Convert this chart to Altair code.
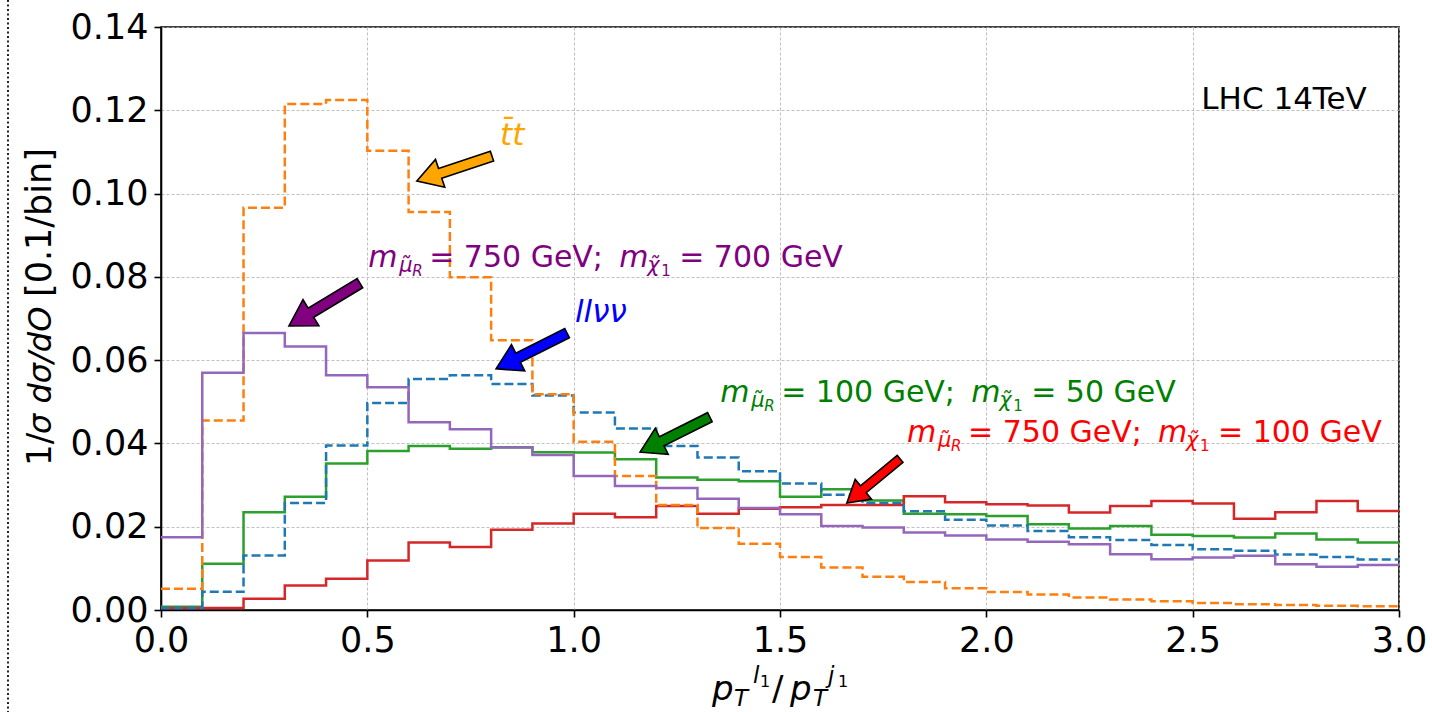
import math
import altair as alt
import pandas as pd

# ---------------- data ----------------
BIN_LEFT = [0.0, 0.1, 0.2, 0.3, 0.4, 0.5, 0.6, 0.7, 0.8, 0.9,
            1.0, 1.1, 1.2, 1.3, 1.4, 1.5, 1.6, 1.7, 1.8, 1.9,
            2.0, 2.1, 2.2, 2.3, 2.4, 2.5, 2.6, 2.7, 2.8, 2.9]
X_MAX = 3.0

tt = [0.0051, 0.0455, 0.0966, 0.1215, 0.1225, 0.1103, 0.0956, 0.0799, 0.0648, 0.0518,
      0.0404, 0.0322, 0.0252, 0.0197, 0.0159, 0.0127, 0.0102, 0.0080, 0.0067, 0.0052,
      0.0043, 0.0037, 0.0030, 0.0025, 0.0021, 0.0017, 0.0014, 0.0012, 0.0010, 0.0009]
llvv = [0.0005, 0.0044, 0.0131, 0.0257, 0.0395, 0.0497, 0.0555, 0.0564, 0.0543, 0.0515,
        0.0474, 0.0436, 0.0394, 0.0366, 0.0333, 0.0304, 0.0277, 0.0257, 0.0237, 0.0217,
        0.0203, 0.0190, 0.0175, 0.0168, 0.0156, 0.0146, 0.0142, 0.0133, 0.0127, 0.0121]
sig_100_50 = [0.0008, 0.0111, 0.0235, 0.0272, 0.0352, 0.0382, 0.0394, 0.0387, 0.0391, 0.0379,
              0.0378, 0.0362, 0.0318, 0.0313, 0.0309, 0.0272, 0.0290, 0.0263, 0.0231, 0.0230,
              0.0226, 0.0206, 0.0196, 0.0202, 0.0181, 0.0178, 0.0174, 0.0184, 0.0169, 0.0162]
sig_750_100 = [0.0005, 0.0005, 0.0027, 0.0059, 0.0075, 0.0119, 0.0162, 0.0151, 0.0193, 0.0208,
               0.0231, 0.0223, 0.0250, 0.0231, 0.0243, 0.0247, 0.0252, 0.0252, 0.0273, 0.0259,
               0.0254, 0.0251, 0.0234, 0.0250, 0.0262, 0.0256, 0.0219, 0.0235, 0.0262, 0.0238]
sig_750_700 = [0.0175, 0.0570, 0.0665, 0.0633, 0.0564, 0.0535, 0.0451, 0.0434, 0.0390, 0.0372,
               0.0322, 0.0298, 0.0293, 0.0267, 0.0245, 0.0230, 0.0202, 0.0198, 0.0186, 0.0179,
               0.0169, 0.0164, 0.0158, 0.0134, 0.0122, 0.0126, 0.0130, 0.0110, 0.0104, 0.0108]

X_TICKS = [0.0, 0.5, 1.0, 1.5, 2.0, 2.5, 3.0]
Y_TICKS = [0.0, 0.02, 0.04, 0.06, 0.08, 0.10, 0.12, 0.14]

# arrows: (tail x, tail y, tip x, tip y, colour) in data coordinates
ARROWS = [
    (0.802, 0.1090, 0.620, 0.1030, "#FFA500"),
    (0.482, 0.0785, 0.310, 0.0682, "#800080"),
    (0.984, 0.0665, 0.812, 0.0579, "#0000FF"),
    (1.330, 0.0463, 1.161, 0.0379, "#008000"),
    (1.791, 0.0363, 1.662, 0.0257, "#FF0000"),
]

# ---------------- layout ----------------
W, H = 1238, 583
PAD = {"left": 161, "top": 27, "right": 33, "bottom": 102}
PX_X = W / X_MAX
PX_Y = H / 0.14

xs = alt.Scale(domain=[0, X_MAX], nice=False, zero=False)
ys = alt.Scale(domain=[0, 0.14], nice=False, zero=False)
x_enc = alt.X("x:Q", scale=xs, axis=alt.Axis(values=X_TICKS, format=".1f", title=None, grid=True))
y_enc = alt.Y("y:Q", scale=ys, axis=alt.Axis(values=Y_TICKS, format=".2f", title=None, grid=True))


def steps(vals):
    return pd.DataFrame({"x": BIN_LEFT + [X_MAX], "y": vals + [vals[-1]]})


def hist_layer(vals, color, dashed):
    kw = dict(interpolate="step-after", color=color, strokeWidth=2.5, clip=True)
    if dashed:
        kw["strokeDash"] = [9, 4]
    return alt.Chart(steps(vals)).mark_line(**kw).encode(x=x_enc, y=y_enc)


layers = [
    hist_layer(sig_100_50, "#2ca02c", False),
    hist_layer(sig_750_100, "#d62728", False),
    hist_layer(llvv, "#1f77b4", True),
    hist_layer(tt, "#ff7f0e", True),
    hist_layer(sig_750_700, "#9467bd", False),
]

# ---------------- arrows (one layer each, custom symbol path) ----------------
ARROW_PATH = "M-1,-0.13L0.38,-0.13L0.38,-0.37L1,0L0.38,0.37L0.38,0.13L-1,0.13Z"
for tx, ty, hx, hy, col in ARROWS:
    dx = (hx - tx) * PX_X
    dy = -(hy - ty) * PX_Y
    length = math.hypot(dx, dy)
    ang = math.degrees(math.atan2(dy, dx)) % 360
    adf = pd.DataFrame({"x": [(tx + hx) / 2], "y": [(ty + hy) / 2]})
    layers.append(alt.Chart(adf).mark_point(
        shape=ARROW_PATH, filled=True, fill=col, color=col, stroke="black",
        strokeWidth=1.6, opacity=1, fillOpacity=1, strokeOpacity=1,
        size=length * length, angle=ang
    ).encode(x=x_enc, y=y_enc))

# ---------------- in-plot texts ----------------
trows = []


def add_label(x0, y0, color, segs):
    for txt, ox, oy, size, italic in segs:
        trows.append({"x": x0 + ox / PX_X, "y": y0 - oy / PX_Y, "text": txt,
                      "size": size, "color": color, "italic": italic})


def mass_segs(a, b):
    return [("m", 0, 0, 30, True), ("\u03bc\u0303", 31, 5, 21, True), ("R", 44, 9, 15, True),
            (f"= {a} GeV;", 61, 0, 30, False),
            ("m", 251, 0, 30, True), ("\u03c7\u0303", 279, 5, 21, True), ("1", 293, 9, 15, False),
            (f"= {b} GeV", 311, 0, 30, False)]


add_label(0.502, 0.0824, "#800080", mass_segs(750, 700))
add_label(1.355, 0.0500, "#008000", mass_segs(100, 50))
add_label(1.808, 0.0403, "#FF0000", mass_segs(750, 100))
add_label(0.8215, 0.1117, "#FFA500", [("t\u0304t", 0, 0, 31, True)])
add_label(1.003, 0.0692, "#0000FF", [("ll\u03bd\u03bd", 0, 0, 31, True)])

tdf = pd.DataFrame(trows)


def text_layer(df, italic):
    return alt.Chart(df).mark_text(
        align="left", baseline="alphabetic", font="DejaVu Sans",
        fontStyle="italic" if italic else "normal"
    ).encode(
        x=x_enc, y=y_enc, text="text:N",
        size=alt.Size("size:Q", scale=None),
        color=alt.Color("color:N", scale=None),
    )


layers.append(text_layer(tdf[tdf.italic], True))
layers.append(text_layer(tdf[~tdf.italic], False))

lhc = pd.DataFrame({"x": [2.922], "y": [0.1203], "text": ["LHC 14TeV"]})
layers.append(alt.Chart(lhc).mark_text(align="right", baseline="alphabetic", font="DejaVu Sans",
                                       fontSize=31, color="black").encode(x=x_enc, y=y_enc, text="text:N"))

# ---------------- axis titles (pixel positions, outside the plot) ----------------
OX, OY = PAD["left"], PAD["top"]
xt = [  # text, abs x, abs baseline y, size, italic
    ("p", 712, 700, 34, True), ("T", 734, 706, 23, True), ("l", 753, 683, 23, True),
    ("1", 760, 687, 16, False), ("/", 772, 700, 34, False), ("p", 790, 700, 34, True),
    ("T", 813, 706, 23, True), ("j", 828, 683, 23, True), ("1", 838, 687, 16, False),
]
xtdf = pd.DataFrame([{"px": a - OX, "py": b - OY, "text": t, "size": s, "italic": i}
                     for t, a, b, s, i in xt])
for it in (True, False):
    layers.append(alt.Chart(xtdf[xtdf.italic == it]).mark_text(
        align="left", baseline="alphabetic", font="DejaVu Sans", color="black",
        fontStyle="italic" if it else "normal"
    ).encode(x=alt.X("px:Q", scale=None, axis=None), y=alt.Y("py:Q", scale=None, axis=None),
             text="text:N", size=alt.Size("size:Q", scale=None)))

yt = [("1/", 51, 466, 34, False), ("\u03c3 d\u03c3/dO", 51, 434, 32, True),
      ("[0.1/bin]", 51, 297, 35, False)]
ytdf = pd.DataFrame([{"px": a - OX, "py": b - OY, "text": t, "size": s, "italic": i}
                     for t, a, b, s, i in yt])
for it in (True, False):
    layers.append(alt.Chart(ytdf[ytdf.italic == it]).mark_text(
        align="left", baseline="alphabetic", font="DejaVu Sans", color="black", angle=270,
        fontStyle="italic" if it else "normal"
    ).encode(x=alt.X("px:Q", scale=None, axis=None), y=alt.Y("py:Q", scale=None, axis=None),
             text="text:N", size=alt.Size("size:Q", scale=None)))

# dotted border line at the far left of the picture
layers.append(alt.Chart(pd.DataFrame({"a": [0]})).mark_rule(
    color="#222222", strokeWidth=2, strokeDash=[2, 2.5]
).encode(x=alt.value(8 - OX), y=alt.value(-OY), y2=alt.value(712 - OY)))

chart = alt.layer(*layers).properties(
    width=W, height=H,
    autosize=alt.AutoSizeParams(type="none"),
    padding=PAD,
).configure_view(
    stroke="black", strokeWidth=1.6
).configure_axis(
    domainColor="black", domainWidth=1.6, tickColor="black", tickWidth=1.6, tickSize=7,
    labelFont="DejaVu Sans", labelFontSize=35, labelColor="black", labelPadding=6,
    gridColor="#b0b0b0", gridDash=[3, 2], gridWidth=0.8,
    labelFlush=False, labelOverlap=False,
)

chart.save("out.html", embed_options={"renderer": "svg", "actions": False})
